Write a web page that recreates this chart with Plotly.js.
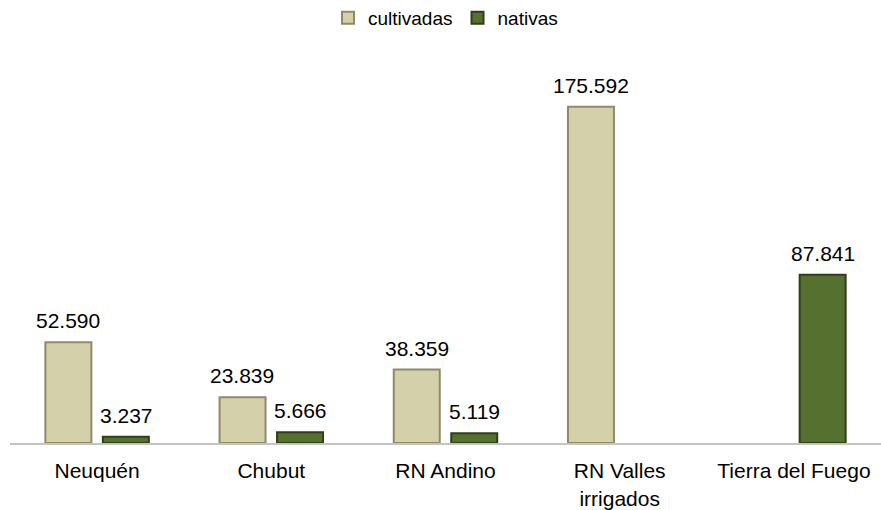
<!DOCTYPE html>
<html>
<head>
<meta charset="utf-8">
<script src="https://cdn.plot.ly/plotly-3.0.1.min.js"></script>
<style>html,body{margin:0;padding:0;background:#fff;}#chart{width:881px;height:510px;}</style>
</head>
<body>
<div id="chart"></div>
<script>
const categories = ["Neuquén", "Chubut", "RN Andino", "RN Valles<br>irrigados", "Tierra del Fuego"];
const cultivadas = [52590, 23839, 38359, 175592, null];
const nativas = [3237, 5666, 5119, null, 87841];
const seriesNames = ["cultivadas", "nativas"];

function fmt(v) {
  return String(v).replace(/\B(?=(\d{3})+(?!\d))/g, ".");
}

const traces = [
  {
    type: "bar", name: seriesNames[0], x: categories, y: cultivadas,
    marker: {color: "#D4D0AA", line: {color: "#8E8A6A", width: 2}},
    hoverinfo: "none"
  },
  {
    type: "bar", name: seriesNames[1], x: categories, y: nativas,
    marker: {color: "#56702F", line: {color: "#2F3F17", width: 2}},
    hoverinfo: "none"
  }
];

const annotations = [];
[cultivadas, nativas].forEach((arr, si) => {
  arr.forEach((v, i) => {
    if (v === null) return;
    annotations.push({
      x: categories[i], y: v, xref: "x", yref: "y",
      text: fmt(v), showarrow: false,
      xshift: si === 0 ? -29 : 29, yshift: 8, yanchor: "bottom",
      font: {family: "Liberation Sans, Arial, sans-serif", size: 21, color: "#000"}
    });
  });
});

const layout = {
  width: 881, height: 510,
  margin: {l: 10, r: 0, t: 60, b: 67},
  paper_bgcolor: "#fff", plot_bgcolor: "#fff",
  barmode: "group", bargap: 0.34, bargroupgap: 0.2,
  font: {family: "Liberation Sans, Arial, sans-serif", color: "#000"},
  showlegend: true,
  legend: {
    orientation: "h", x: 0.5, xanchor: "center", y: 1 - 18/510, yanchor: "middle",
    yref: "container", font: {size: 19}, itemwidth: 30, tracegroupgap: 0
  },
  xaxis: {
    type: "category", showline: true, linecolor: "#C4C4C4", linewidth: 2,
    showgrid: false, ticks: "", tickfont: {size: 21}, ticklabelstandoff: 8, fixedrange: true
  },
  yaxis: {
    range: [0, 200000], visible: false, showgrid: false, zeroline: false, fixedrange: true
  },
  annotations: annotations
};

Plotly.newPlot("chart", traces, layout, {displayModeBar: false, staticPlot: true});
</script>
</body>
</html>
